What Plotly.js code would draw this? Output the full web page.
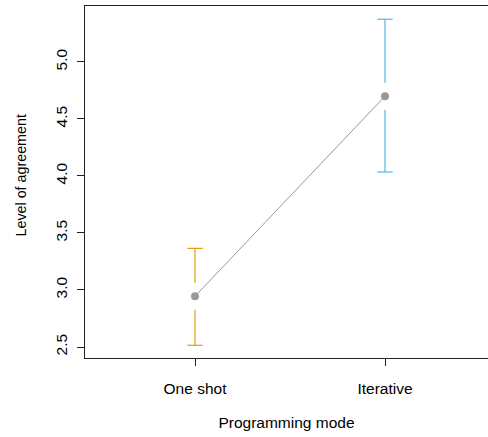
<!DOCTYPE html>
<html><head><meta charset="utf-8">
<script src="https://cdn.plot.ly/plotly-3.0.1.min.js"></script>
<style>html,body{margin:0;padding:0;background:#fff}#c{width:488px;height:437px}</style>
</head><body><div id="c"></div>
<script>
const categories = ["One shot", "Iterative"];
const means = [2.945, 4.70];
const upper = [3.365, 5.375];
const lower = [2.515, 4.035];
const barColors = ["#E69F00", "#56B4E9"];
const yTicks = [2.5, 3.0, 3.5, 4.0, 4.5, 5.0];
const yTickText = ["2.5", "3.0", "3.5", "4.0", "4.5", "5.0"];
const xTitle = "Programming mode";
const yTitle = "Level of agreement";

const xpos = [1, 2];
const gap = 0.118; // visual gap around point (style)
const traces = [];
for (let i = 0; i < categories.length; i++) {
  traces.push({
    x: [xpos[i], xpos[i], null, xpos[i], xpos[i]],
    y: [lower[i], means[i] - gap, null, means[i] + gap, upper[i]],
    mode: 'lines', line: {color: barColors[i], width: 1.2},
    hoverinfo: 'skip', showlegend: false
  });
  traces.push({
    x: [xpos[i], xpos[i]], y: [lower[i], upper[i]], mode: 'markers',
    marker: {symbol: 'line-ew-open', size: 11, color: barColors[i],
             line: {color: barColors[i], width: 1.2}},
    showlegend: false, hoverinfo: 'skip'
  });
}
traces.push({
  x: xpos, y: means, mode: 'lines+markers',
  line: {color: '#999999', width: 1},
  marker: {color: '#999999', size: 8},
  showlegend: false
});

const xf = {family: 'Liberation Sans, Arial, sans-serif', size: 15.5, color: '#000'};
const ytf = {family: 'Liberation Sans, Arial, sans-serif', size: 15.5, color: '#000'};
const yttl = {family: 'Liberation Sans, Arial, sans-serif', size: 14.3, color: '#000'};
const layout = {
  width: 488, height: 437,
  margin: {l: 85, r: 0, t: 6, b: 79},
  paper_bgcolor: '#fff', plot_bgcolor: '#fff',
  font: xf,
  xaxis: {
    range: [1 - 110/190, 2 + 103/190],
    tickvals: xpos, ticktext: categories,
    showgrid: false, zeroline: false,
    showline: true, linecolor: '#222', linewidth: 1, mirror: true,
    ticks: 'outside', ticklen: 7, tickcolor: '#222',
    tickfont: xf, ticklabelstandoff: 9,
    title: {text: xTitle, font: xf, standoff: 21}
  },
  yaxis: {
    range: [2.4035, 5.491],
    tickvals: yTicks, ticktext: yTickText, tickangle: -90,
    showgrid: false, zeroline: false,
    showline: true, linecolor: '#222', linewidth: 1, mirror: false,
    ticks: 'outside', ticklen: 7, tickcolor: '#222',
    tickfont: ytf, ticklabelstandoff: 4
  },
  annotations: [{
    text: yTitle, xref: 'paper', yref: 'paper',
    x: (20.5 - 85) / 403, y: (358 - 176) / 352,
    xanchor: 'center', yanchor: 'middle', textangle: -90,
    showarrow: false, font: yttl
  }]
};
Plotly.newPlot('c', traces, layout, {staticPlot: true, displayModeBar: false});
</script></body></html>
